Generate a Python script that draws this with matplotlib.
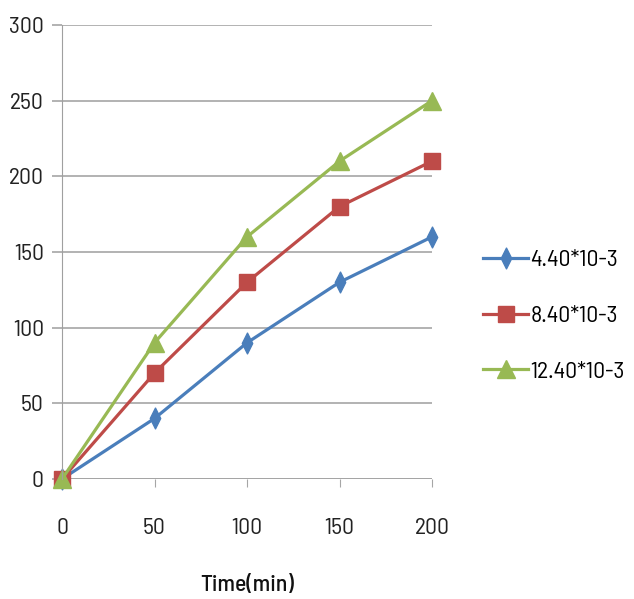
import matplotlib
matplotlib.use("Agg")
import matplotlib.pyplot as plt
from matplotlib.path import Path
from matplotlib import font_manager

time_min = [0, 50, 100, 150, 200]
s1 = [0, 40, 90, 130, 160]
s2 = [0, 70, 130, 180, 210]
s3 = [0, 90, 160, 210, 250]
labels = ["4.40*10-3", "8.40*10-3", "12.40*10-3"]
colors = ["#4A7EBB", "#BE4B48", "#98B954"]
yticks = [0, 50, 100, 150, 200, 250, 300]
xticks = [0, 50, 100, 150, 200]

names = {f.name for f in font_manager.fontManager.ttflist}
fam = [n for n in ["Barlow Semi Condensed", "Archivo Narrow"] if n in names] + ["DejaVu Sans"]
plt.rcParams['font.family'] = fam

diamond = Path([(0, 1), (0.5, 0), (0, -1), (-0.5, 0), (0, 1)],
               [Path.MOVETO, Path.LINETO, Path.LINETO, Path.LINETO, Path.CLOSEPOLY])

fig = plt.figure(figsize=(6.34, 5.99), dpi=100)
ax = fig.add_axes([62/634, 1-479/599, (432-62)/634, (479-25)/599])

ax.plot(time_min, s1, color=colors[0], lw=2.3, marker=diamond, ms=15, label=labels[0], clip_on=False)
ax.plot(time_min, s2, color=colors[1], lw=2.3, marker='s', ms=12, label=labels[1], clip_on=False)
ax.plot(time_min, s3, color=colors[2], lw=2.3, marker='^', ms=13, label=labels[2], clip_on=False)

ax.set_xlim(0, 200)
ax.set_ylim(0, 300)
ax.set_xticks(xticks)
ax.set_yticks(yticks)
ax.yaxis.grid(True, color="#A6A6A6", lw=1.2)
ax.set_axisbelow(True)
for s in ["top", "right", "bottom"]:
    ax.spines[s].set_visible(False)
ax.spines["left"].set_color("#A0A0A0")
ax.spines["left"].set_linestyle((0, (1, 1)))
ax.spines["left"].set_linewidth(0.8)
ax.axhline(0, color="#909090", lw=1.2, zorder=0.5)
ax.tick_params(axis='y', length=7, color="#A6A6A6", width=1.2, pad=6, labelsize=17, labelcolor="#222222")
ax.tick_params(axis='x', length=6, color="#A6A6A6", width=0.8, pad=22, labelsize=17, labelcolor="#222222")
ax.set_xlabel("Time(min)", fontsize=17, labelpad=26, color="#111111", fontweight="medium")

leg = fig.legend(loc="center left", bbox_to_anchor=(462/634, 1-316/599), frameon=False,
                 fontsize=17, handlelength=1.9, labelspacing=1.45, handletextpad=0.1)
fig.savefig("out.png", dpi=100)
